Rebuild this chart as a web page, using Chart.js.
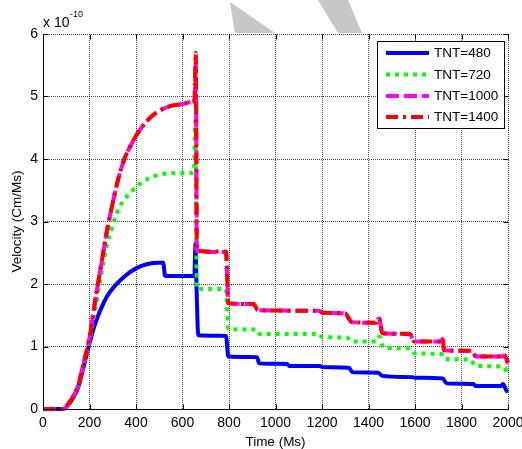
<!DOCTYPE html>
<html><head><meta charset="utf-8">
<script src="https://cdn.jsdelivr.net/npm/chart.js@4.4.1/dist/chart.umd.min.js"></script>
<style>html,body{margin:0;padding:0;background:#fff;overflow:hidden}#wrap{width:522px;height:449px;position:relative}</style>
</head><body><div id="wrap"><canvas id="c" width="522" height="449"></canvas></div>
<script>
// ---- data (velocity in units of 1e-10 Cm/Ms, time in Ms) ----
const seriesLabels = ['TNT=480', 'TNT=720', 'TNT=1000', 'TNT=1400'];
const xTitle = 'Time (Ms)';
const yTitle = 'Velocity (Cm/Ms)';
const xTickStep = 200, xMin = 0, xMax = 2000;
const yTickStep = 1, yMin = 0, yMax = 6;

const t480 = [0, 90, 100, 125, 150, 175, 200, 225, 250, 275, 300, 350, 400, 450, 500, 517, 525, 651, 656, 660, 668, 787, 797, 920, 930, 1050, 1058, 1190, 1200, 1316, 1330, 1441, 1460, 1586, 1600, 1719, 1736, 1851, 1860, 1972, 1978, 1994, 2000];
const v480 = [0, 0, 0.03, 0.15, 0.33, 0.68, 1.05, 1.37, 1.61, 1.8, 1.93, 2.12, 2.25, 2.32, 2.34, 2.34, 2.13, 2.13, 2.65, 2.0, 1.18, 1.17, 0.84, 0.83, 0.73, 0.72, 0.69, 0.69, 0.67, 0.66, 0.59, 0.58, 0.53, 0.51, 0.50, 0.49, 0.41, 0.40, 0.37, 0.37, 0.40, 0.29, 0.27];

const t720 = [0, 90, 100, 125, 150, 175, 200, 225, 250, 275, 300, 325, 350, 400, 450, 500, 550, 645, 650, 655, 662, 787, 797, 920, 930, 1188, 1200, 1309, 1327, 1435, 1446, 1465, 1578, 1599, 1715, 1729, 1840, 1858, 1977, 2000];
const v720 = [0, 0, 0.04, 0.17, 0.36, 0.72, 1.1, 1.6, 2.15, 2.62, 2.95, 3.2, 3.35, 3.55, 3.68, 3.75, 3.77, 3.78, 3.85, 4.6, 1.92, 1.92, 1.28, 1.27, 1.2, 1.2, 1.15, 1.14, 1.08, 1.08, 1.16, 0.98, 0.97, 0.89, 0.88, 0.80, 0.79, 0.69, 0.68, 0.57];

const t1000 = [0, 90, 100, 125, 150, 175, 200, 225, 250, 275, 300, 325, 350, 375, 400, 450, 500, 550, 600, 645, 652, 657, 662, 787, 797, 905, 925, 1190, 1200, 1300, 1315, 1327, 1435, 1441, 1446, 1460, 1578, 1596, 1707, 1719, 1725, 1844, 1862, 1977, 1983, 2000];
const v1000 = [0, 0, 0.04, 0.17, 0.36, 0.74, 1.14, 1.75, 2.3, 2.85, 3.3, 3.7, 4.0, 4.2, 4.37, 4.62, 4.77, 4.85, 4.88, 4.92, 4.95, 5.55, 2.52, 2.51, 1.69, 1.68, 1.58, 1.57, 1.54, 1.53, 1.45, 1.39, 1.38, 1.44, 1.44, 1.21, 1.2, 1.08, 1.08, 1.12, 0.94, 0.93, 0.84, 0.84, 0.86, 0.73];

const t1400 = [0, 90, 100, 125, 150, 175, 200, 225, 250, 275, 300, 325, 350, 375, 400, 450, 500, 550, 600, 645, 652, 657, 662, 787, 797, 905, 925, 1190, 1200, 1300, 1315, 1327, 1435, 1441, 1446, 1460, 1578, 1596, 1707, 1719, 1725, 1844, 1862, 1977, 1983, 2000];
const v1400 = [0, 0, 0.04, 0.17, 0.36, 0.74, 1.14, 1.75, 2.3, 2.85, 3.3, 3.7, 4.0, 4.2, 4.37, 4.62, 4.77, 4.85, 4.88, 4.92, 4.95, 5.7, 2.53, 2.52, 1.69, 1.68, 1.58, 1.57, 1.54, 1.53, 1.45, 1.39, 1.38, 1.45, 1.45, 1.21, 1.2, 1.08, 1.08, 1.13, 0.94, 0.93, 0.84, 0.84, 0.87, 0.74];

// ---- styles ----
const colors = ['#0000ff', '#00ff00', '#ff00ff', '#ff0000'];
const dashes = [[], [4, 5], [13, 5], [12, 5, 3, 5]];
const FONT = "'Liberation Sans', Arial, Helvetica, sans-serif";

const pts = (t, v) => t.map((x, i) => ({x: x, y: v[i]}));
const allT = [t480, t720, t1000, t1400];
const allV = [v480, v720, v1000, v1400];

const datasets = seriesLabels.map((lab, i) => ({
  label: lab,
  data: pts(allT[i], allV[i]),
  borderColor: colors[i],
  backgroundColor: colors[i],
  borderWidth: 4,
  borderDash: dashes[i],
  borderCapStyle: 'butt',
  borderJoinStyle: 'round',
  pointRadius: 0,
  fill: false,
  cubicInterpolationMode: 'monotone',
  clip: false,
  order: 4 - i
}));

const deco = {
  id: 'deco',
  beforeDraw(chart) {
    const c = chart.ctx;
    c.save();
    c.fillStyle = '#fff';
    c.fillRect(0, 0, chart.width, chart.height);
    c.fillStyle = '#c6c6c6';
    c.beginPath(); c.moveTo(230, 2); c.lineTo(235, 33); c.lineTo(275, 33); c.closePath(); c.fill();
    c.beginPath(); c.moveTo(318, 0); c.lineTo(348, 0); c.lineTo(362, 33); c.lineTo(338, 33); c.closePath(); c.fill();
    c.restore();
  },
  afterDraw(chart) {
    const c = chart.ctx, a = chart.chartArea;
    const xs = chart.scales.x, ys = chart.scales.y;
    const L = Math.round(a.left) + 0.5, R = Math.round(a.right) + 0.5;
    const T = Math.round(a.top) + 0.5, B = Math.round(a.bottom) + 0.5;
    c.save();
    c.strokeStyle = '#000'; c.lineWidth = 1; c.setLineDash([]);
    c.beginPath();
    c.moveTo(L, T); c.lineTo(L, B); c.lineTo(R, B);
    c.stroke();
    // inward ticks
    c.beginPath();
    xs.ticks.forEach(tk => {
      const px = Math.round(xs.getPixelForValue(tk.value)) + 0.5;
      c.moveTo(px, B); c.lineTo(px, B - 5);
      c.moveTo(px, T); c.lineTo(px, T + 5);
    });
    ys.ticks.forEach(tk => {
      const py = Math.round(ys.getPixelForValue(tk.value)) + 0.5;
      c.moveTo(L, py); c.lineTo(L + 5, py);
      c.moveTo(R, py); c.lineTo(R - 5, py);
    });
    c.stroke();
    // exponent label
    c.fillStyle = '#000';
    c.textBaseline = 'alphabetic'; c.textAlign = 'left';
    c.font = '14px ' + FONT;
    c.fillText('x 10', 43, 27);
    c.font = '9px ' + FONT;
    c.fillText('-10', 70, 17);
    // axis titles
    c.font = '13.5px ' + FONT;
    c.textAlign = 'center'; c.textBaseline = 'middle';
    c.fillText(xTitle, (a.left + a.right) / 2, 442);
    c.save();
    c.translate(17, (a.top + a.bottom) / 2);
    c.rotate(-Math.PI / 2);
    c.fillText(yTitle, 0, 0);
    c.restore();
    // legend
    c.fillStyle = '#fff';
    c.fillRect(377.5, 41.5, 127, 87);
    c.strokeStyle = '#000'; c.lineWidth = 1;
    c.strokeRect(377.5, 41.5, 127, 87);
    const rows = [53, 74.5, 96, 117];
    chart.data.datasets.forEach((ds, i) => {
      const y = rows[i];
      c.save();
      c.strokeStyle = ds.borderColor; c.lineWidth = 4; c.lineCap = 'butt';
      c.setLineDash(ds.borderDash);
      c.beginPath(); c.moveTo(386, y); c.lineTo(429, y); c.stroke();
      c.restore();
      c.fillStyle = '#000';
      c.font = '13.5px ' + FONT;
      c.textAlign = 'left'; c.textBaseline = 'middle';
      c.fillText(ds.label, 434, y + 0.5);
    });
    c.restore();
  }
};

const gridOpts = {color: 'rgba(0,0,0,0.7)', lineWidth: 1, drawTicks: false};
const borderOpts = {display: false, dash: [1, 1]};
const plainTick = v => String(v);

new Chart(document.getElementById('c'), {
  type: 'line',
  data: {datasets: datasets},
  options: {
    responsive: false,
    animation: false,
    devicePixelRatio: 1,
    layout: {padding: {left: 0, right: 14, top: 34, bottom: 0}},
    plugins: {legend: {display: false}, tooltip: {enabled: false}, title: {display: false}},
    scales: {
      x: {
        type: 'linear', min: xMin, max: xMax,
        ticks: {stepSize: xTickStep, color: '#000', padding: 6, maxRotation: 0, autoSkip: false, font: {family: FONT, size: 14}, callback: plainTick},
        grid: gridOpts, border: borderOpts,
        afterFit(s) { s.height = 40; s.paddingLeft = 0; s.paddingRight = 0; }
      },
      y: {
        type: 'linear', min: yMin, max: yMax,
        ticks: {stepSize: yTickStep, color: '#000', padding: 5, font: {family: FONT, size: 14}, callback: plainTick},
        grid: gridOpts, border: borderOpts,
        afterFit(s) { s.width = 43; s.paddingTop = 0; s.paddingBottom = 0; }
      }
    }
  },
  plugins: [deco]
});
</script></body></html>
